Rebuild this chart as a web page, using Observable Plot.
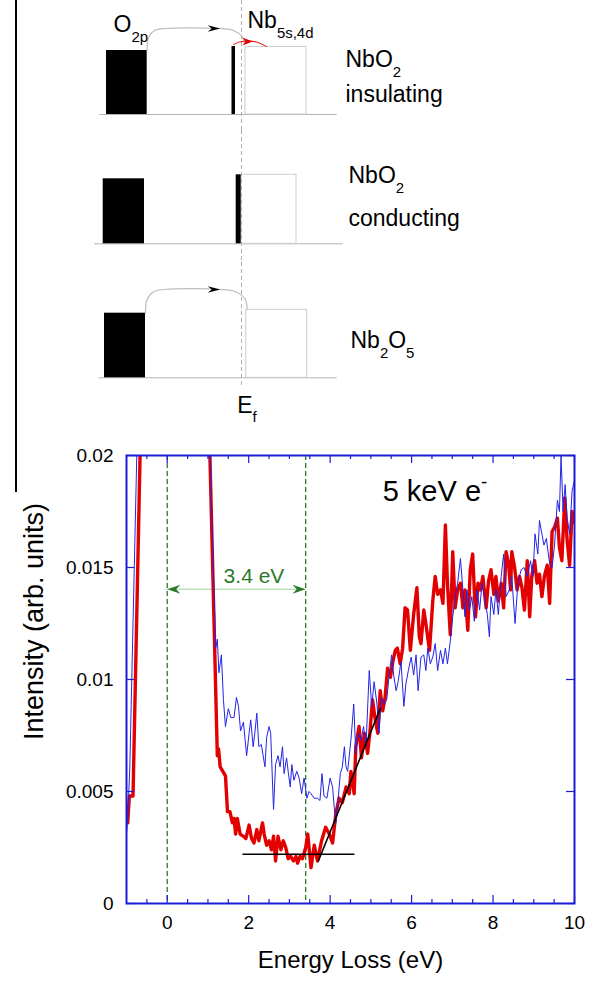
<!DOCTYPE html>
<html>
<head>
<meta charset="utf-8">
<script src="https://cdn.jsdelivr.net/npm/d3@7"></script>
<script src="https://cdn.jsdelivr.net/npm/@observablehq/plot@0.6"></script>
<style>
  body { margin: 0; background: #fff; }
  #wrap { position: relative; width: 597px; height: 982px; overflow: hidden; background: #fff; }
  #wrap svg { display: block; }
  #bar { position: absolute; left: 15px; top: 0; width: 2px; height: 492px; background: #000; z-index: 2; }
</style>
</head>
<body>
<div id="wrap"><div id="bar"></div></div>
<script>
// ---------------- DATA ----------------
// Band diagram (energy units relative to the Fermi level)
const fermiLevel = 0;
const rowNames = ["NbO_{2}", "NbO_{2}", "Nb_{2}O_{5}"];
const rowStates = ["insulating", "conducting", ""];
const baselines = [
  {row: 0, x1: -14.17, x2: 9.57},
  {row: 1, x1: -14.7, x2: 10.17},
  {row: 2, x1: -14.27, x2: 9.57}
];
const valenceBands = [   // O 2p (filled)
  {row: 0, x1: -13.5, x2: -9.43, top: 6.4},
  {row: 1, x1: -13.83, x2: -9.7, top: 6.5},
  {row: 2, x1: -13.7, x2: -9.6, top: 6.46}
];
const dBands = [         // narrow Nb 4d band (filled)
  {row: 0, x1: -0.95, x2: -0.6, top: 6.8},
  {row: 1, x1: -0.53, x2: -0.03, top: 6.9}
];
const conductionBands = [ // Nb 5s,4d (empty)
  {row: 0, x1: 0.4, x2: 6.5, top: 6.75},
  {row: 1, x1: 0.0, x2: 5.5, top: 6.9},
  {row: 2, x1: 0.47, x2: 6.57, top: 6.8}
];
const transitions = [
  {row: 0, kind: "gap", pts: [[-9.43, 6.4], [-9.3, 7.7], [-8.7, 8.4], [-7.6, 8.6], [-2.2, 8.6], [-0.8, 8.4], [0.05, 7.8], [0.3, 7.2]]},
  {row: 0, kind: "d", pts: [[-0.8, 7.0], [-0.2, 7.25], [0.6, 7.35], [1.5, 7.25], [2.5, 6.8]]},
  {row: 2, kind: "gap", pts: [[-9.6, 6.46], [-9.45, 7.8], [-8.8, 8.6], [-7.7, 8.83], [-2.2, 8.83], [-0.6, 8.6], [0.35, 7.9], [0.57, 6.9]]}
];
const transitionHeads = [
  {row: 0, kind: "gap", x: -2.75, y: 8.6},
  {row: 0, kind: "d", x: 0.6, y: 7.3},
  {row: 2, kind: "gap", x: -2.75, y: 8.83}
];
const diagramLabels = [
  {row: 0, text: "O_{2p}", x: -12.8, y: 8.97},
  {row: 0, text: "Nb_{5s,4d}", x: 0.6, y: 9.34},
  {row: 0, text: rowNames[0], x: 10.4, y: 5.44},
  {row: 0, text: rowStates[0], x: 10.4, y: 1.97},
  {row: 1, text: rowNames[1], x: 10.7, y: 6.77},
  {row: 1, text: rowStates[1], x: 10.7, y: 2.47},
  {row: 2, text: rowNames[2], x: 10.9, y: 3.67},
  {row: 2, text: "E_{f}", x: -0.43, y: -2.74}
];

// EELS spectrum
const energyRed = [-1.00,-0.97,-0.93,-0.84,-0.66,0.20,1.04,1.23,1.26,1.30,1.43,1.48,1.54,1.60,1.64,1.68,1.72,1.79,1.87,1.93,2.01,2.07,2.13,2.20,2.25,2.34,2.38,2.44,2.50,2.56,2.61,2.66,2.72,2.79,2.85,2.91,2.97,3.03,3.10,3.16,3.20,3.26,3.32,3.40,3.45,3.53,3.61,3.69,3.79,3.89,3.98,4.06,4.14,4.22,4.30,4.39,4.47,4.51,4.59,4.63,4.71,4.77,4.84,4.92,4.98,5.04,5.10,5.17,5.23,5.29,5.35,5.41,5.48,5.54,5.60,5.65,5.72,5.78,5.84,5.90,5.97,6.05,6.13,6.19,6.23,6.30,6.35,6.44,6.52,6.58,6.64,6.71,6.77,6.83,6.88,6.95,7.01,7.07,7.13,7.20,7.26,7.31,7.38,7.44,7.50,7.57,7.63,7.69,7.75,7.83,7.89,7.95,8.02,8.07,8.13,8.20,8.26,8.32,8.38,8.43,8.46,8.53,8.59,8.65,8.71,8.77,8.84,8.90,8.95,9.02,9.08,9.14,9.20,9.26,9.33,9.39,9.45,9.51,9.58,9.63,9.69,9.76,9.82,9.88,9.94,10.00];
const intensityRed = [0.0042,0.0036,0.0048,0.0048,0.0206,0.3000,0.0206,0.0066,0.0069,0.0061,0.0057,0.0041,0.0041,0.0036,0.0038,0.0031,0.0038,0.0031,0.0030,0.0029,0.0035,0.0029,0.0027,0.0033,0.0028,0.0036,0.0031,0.0026,0.0028,0.0024,0.0030,0.0019,0.0030,0.0024,0.0028,0.0025,0.0020,0.0021,0.0019,0.0021,0.0018,0.0021,0.0020,0.0025,0.0031,0.0016,0.0026,0.0019,0.0028,0.0034,0.0031,0.0027,0.0040,0.0047,0.0045,0.0052,0.0049,0.0059,0.0049,0.0070,0.0079,0.0065,0.0076,0.0067,0.0077,0.0091,0.0083,0.0076,0.0095,0.0086,0.0092,0.0105,0.0101,0.0108,0.0113,0.0114,0.0107,0.0114,0.0132,0.0131,0.0113,0.0129,0.0141,0.0119,0.0116,0.0131,0.0125,0.0113,0.0135,0.0146,0.0138,0.0140,0.0134,0.0169,0.0143,0.0120,0.0157,0.0132,0.0140,0.0143,0.0132,0.0140,0.0122,0.0149,0.0156,0.0128,0.0143,0.0140,0.0146,0.0132,0.0144,0.0149,0.0138,0.0146,0.0135,0.0143,0.0132,0.0157,0.0152,0.0140,0.0157,0.0150,0.0140,0.0146,0.0141,0.0131,0.0153,0.0128,0.0146,0.0153,0.0143,0.0147,0.0137,0.0146,0.0151,0.0134,0.0166,0.0168,0.0172,0.0159,0.0153,0.0181,0.0162,0.0151,0.0175,0.0170];
const energyBlue = [-1.00,-0.97,-0.92,-0.74,0.20,1.04,1.19,1.23,1.27,1.33,1.38,1.43,1.50,1.56,1.64,1.70,1.75,1.80,1.87,1.95,2.01,2.05,2.11,2.15,2.20,2.25,2.31,2.40,2.44,2.50,2.54,2.61,2.66,2.72,2.77,2.83,2.87,2.93,2.97,3.02,3.06,3.11,3.18,3.24,3.30,3.36,3.43,3.48,3.53,3.61,3.69,3.75,3.80,3.85,3.92,4.00,4.06,4.10,4.14,4.18,4.25,4.30,4.35,4.39,4.43,4.51,4.58,4.63,4.69,4.76,4.82,4.88,4.96,5.02,5.08,5.15,5.20,5.26,5.33,5.39,5.45,5.51,5.56,5.62,5.67,5.74,5.81,5.86,5.92,5.99,6.05,6.11,6.16,6.23,6.30,6.35,6.40,6.46,6.52,6.58,6.64,6.71,6.77,6.83,6.88,6.95,7.01,7.07,7.13,7.20,7.26,7.31,7.36,7.42,7.48,7.54,7.61,7.67,7.73,7.79,7.86,7.91,7.95,8.02,8.07,8.13,8.20,8.26,8.32,8.40,8.46,8.54,8.61,8.69,8.76,8.84,8.92,8.98,9.03,9.10,9.14,9.20,9.25,9.31,9.35,9.39,9.45,9.51,9.58,9.63,9.67,9.72,9.77,9.82,9.88,9.94,10.00];
const intensityBlue = [0.0031,0.0038,0.0060,0.0206,0.3000,0.0206,0.0114,0.0118,0.0103,0.0111,0.0091,0.0079,0.0087,0.0083,0.0083,0.0092,0.0088,0.0077,0.0081,0.0066,0.0076,0.0082,0.0070,0.0076,0.0085,0.0070,0.0071,0.0061,0.0074,0.0079,0.0076,0.0042,0.0062,0.0066,0.0061,0.0070,0.0058,0.0065,0.0059,0.0052,0.0062,0.0055,0.0059,0.0056,0.0049,0.0056,0.0047,0.0050,0.0049,0.0047,0.0047,0.0046,0.0058,0.0048,0.0047,0.0056,0.0052,0.0043,0.0036,0.0043,0.0058,0.0061,0.0070,0.0061,0.0059,0.0073,0.0089,0.0067,0.0076,0.0073,0.0079,0.0070,0.0104,0.0088,0.0099,0.0089,0.0076,0.0092,0.0089,0.0091,0.0102,0.0111,0.0102,0.0095,0.0099,0.0108,0.0088,0.0098,0.0104,0.0110,0.0102,0.0111,0.0095,0.0110,0.0111,0.0104,0.0114,0.0107,0.0110,0.0116,0.0104,0.0113,0.0107,0.0114,0.0107,0.0117,0.0128,0.0137,0.0143,0.0154,0.0140,0.0128,0.0140,0.0131,0.0137,0.0126,0.0140,0.0131,0.0143,0.0137,0.0129,0.0119,0.0137,0.0129,0.0140,0.0129,0.0146,0.0156,0.0137,0.0140,0.0146,0.0125,0.0143,0.0149,0.0150,0.0146,0.0153,0.0146,0.0165,0.0156,0.0171,0.0165,0.0160,0.0163,0.0157,0.0152,0.0150,0.0160,0.0180,0.0175,0.0200,0.0175,0.0187,0.0172,0.0165,0.0184,0.0189];
const backgroundFit = {x1: 1.86, x2: 4.61, y: 0.0022};
const onsetFit = [[3.71, 0.0019], [5.23, 0.0087]];
const gapEdges = [0, 3.4];
const gapArrowY = 0.01403;
const gapLabel = {text: "3.4 eV", x: 2.13, y: 0.01463};
const beamLabel = {text: "5 keV e^{-}", x: 5.29, y: 0.0184};
const xMajor = [0, 2, 4, 6, 8, 10];
const xMinor = [-0.5, 0.5, 1, 1.5, 2.5, 3, 3.5, 4.5, 5, 5.5, 6.5, 7, 7.5, 8.5, 9, 9.5];
const yMajor = [0, 0.005, 0.01, 0.015, 0.02];
const xLabel = "Energy Loss (eV)";
const yLabel = "Intensity (arb. units)";

// ---------------- HELPERS ----------------
const FONT = "'Liberation Sans', Arial, Helvetica, sans-serif";
const NS = "http://www.w3.org/2000/svg";

function dart(dir, aspect) {
  return {
    draw(ctx, size) {
      const s = Math.sqrt(size / Math.PI), h = s * aspect;
      ctx.moveTo(dir * s, 0);
      ctx.lineTo(-dir * s, -h);
      ctx.lineTo(-dir * s * 0.35, 0);
      ctx.lineTo(-dir * s, h);
      ctx.closePath();
    }
  };
}

// turn "X_{sub}" / "X^{sup}" into tspans
function richText(root) {
  root.querySelectorAll("text").forEach((t) => {
    const s = t.textContent;
    if (!/[_^]\{/.test(s)) return;
    const holder = t.closest("[font-size]");
    const fs = holder ? parseFloat(holder.getAttribute("font-size")) : 16;
    while (t.firstChild) t.removeChild(t.firstChild);
    let shift = 0;
    s.replace(/([_^])\{([^}]*)\}|([^_^]+)/g, (m, kind, inner, plain) => {
      const ts = document.createElementNS(NS, "tspan");
      if (plain !== undefined) {
        ts.textContent = plain;
        if (shift) { ts.setAttribute("dy", -shift); shift = 0; }
      } else {
        const d = (kind === "_" ? 0.42 : -0.45) * fs;
        ts.textContent = inner;
        ts.setAttribute("font-size", 0.65 * fs);
        ts.setAttribute("dy", d - shift);
        shift = d;
      }
      t.appendChild(ts);
    });
  });
}

const wrap = document.getElementById("wrap");

// ---------------- BAND DIAGRAM ROWS ----------------
const rowLayout = [{h: 130, mb: 16}, {h: 130, mb: 16.7}, {h: 150, mb: 32.7}];
const efBottom = [null, null, -0.77];

rowLayout.forEach(({h, mb}, i) => {
  const yTop = (h - mb) / 10;
  const byRow = (arr) => arr.filter((d) => d.row === i);
  const arcs = byRow(transitions).flatMap((t) => t.pts.map(([x, y]) => ({kind: t.kind, x, y})));
  const marks = [
    Plot.ruleY(byRow(baselines), {x1: "x1", x2: "x2", y: 0, stroke: "#b4b4b4", strokeWidth: 1}),
    Plot.rect(byRow(conductionBands), {x1: "x1", x2: "x2", y1: 0, y2: "top", fill: "none", stroke: "#cdcdcd", strokeWidth: 1}),
    Plot.ruleX([fermiLevel], {y1: efBottom[i] ?? -mb / 10, y2: yTop, stroke: "#b0b0b0", strokeWidth: 1, strokeDasharray: "4,3"}),
    Plot.rect(byRow(valenceBands), {x1: "x1", x2: "x2", y1: 0, y2: "top", fill: "#000"}),
    Plot.rect(byRow(dBands), {x1: "x1", x2: "x2", y1: 0, y2: "top", fill: "#000"}),
    Plot.line(arcs.filter((d) => d.kind === "gap"), {x: "x", y: "y", curve: "catmull-rom", stroke: "#bdbdbd", strokeWidth: 1.2}),
    Plot.line(arcs.filter((d) => d.kind === "d"), {x: "x", y: "y", curve: "catmull-rom", stroke: "#e00000", strokeWidth: 1}),
    Plot.dot(byRow(transitionHeads).filter((d) => d.kind === "gap"), {x: "x", y: "y", r: 6.3, symbol: dart(1, 0.53), fill: "#000", stroke: "none"}),
    Plot.dot(byRow(transitionHeads).filter((d) => d.kind === "d"), {x: "x", y: "y", r: 5.2, symbol: dart(1, 0.75), fill: "#e00000", stroke: "none"}),
    Plot.text(byRow(diagramLabels), {x: "x", y: "y", text: "text", textAnchor: "start", fontSize: 23, fill: "#000"})
  ];
  const svg = Plot.plot({
    width: 597, height: h,
    marginTop: 0, marginBottom: mb, marginLeft: 0, marginRight: 0,
    style: {fontFamily: FONT, background: "transparent", overflow: "visible"},
    x: {domain: [-24.1, 35.6], axis: null},
    y: {domain: [0, yTop], axis: null},
    marks
  });
  richText(svg);
  wrap.appendChild(svg);
});

// ---------------- SPECTRUM ----------------
const W = 597, H = 572, mT = 45, mB = 79, mL = 126, mR = 23;
const FW = W - mL - mR, FH = H - mT - mB;
const AXIS = "#1c1cd8";
const GREEN = "#2a7a2a";
const red = energyRed.map((e, k) => ({e, i: intensityRed[k]}));
const blue = energyBlue.map((e, k) => ({e, i: intensityBlue[k]}));

const spectrum = Plot.plot({
  width: W, height: H,
  marginTop: mT, marginBottom: mB, marginLeft: mL, marginRight: mR,
  style: {fontFamily: FONT, fontSize: "19px", color: "#000", background: "#fff", overflow: "visible"},
  x: {domain: [-1, 10]},
  y: {domain: [0, 0.02]},
  marks: [
    Plot.axisX({ticks: xMajor, tickSize: 0, tickPadding: 12, fontSize: 19, label: null}),
    Plot.axisY({ticks: yMajor, tickSize: 0, tickPadding: 13, fontSize: 19, label: null, tickFormat: d3.format("~g")}),
    Plot.ruleX(gapEdges, {stroke: GREEN, strokeWidth: 1.3, strokeDasharray: "5,3"}),
    Plot.ruleY([gapArrowY], {x1: gapEdges[0], x2: gapEdges[1], stroke: "#9fcf9f", strokeWidth: 1}),
    Plot.dot([gapEdges[0]], {x: (d) => d, y: gapArrowY, dx: 6.6, r: 6.6, symbol: dart(-1, 0.68), fill: GREEN, stroke: "none"}),
    Plot.dot([gapEdges[1]], {x: (d) => d, y: gapArrowY, dx: -6.6, r: 6.6, symbol: dart(1, 0.68), fill: GREEN, stroke: "none"}),
    Plot.text([gapLabel], {x: "x", y: "y", text: "text", fontSize: 21, fill: GREEN}),
    Plot.line(red, {x: "e", y: "i", stroke: "#e30000", strokeWidth: 3.4, strokeLinejoin: "round", clip: true}),
    Plot.line(blue, {x: "e", y: "i", stroke: "#2424e6", strokeWidth: 1, clip: true}),
    Plot.ruleY([backgroundFit], {x1: "x1", x2: "x2", y: "y", stroke: "#000", strokeWidth: 1.4}),
    Plot.line(onsetFit, {x: (d) => d[0], y: (d) => d[1], stroke: "#000", strokeWidth: 1.6}),
    // inward ticks on all four sides
    Plot.ruleX(xMajor, {insetTop: FH - 8, stroke: AXIS, strokeWidth: 1.2}),
    Plot.ruleX(xMajor, {insetBottom: FH - 8, stroke: AXIS, strokeWidth: 1.2}),
    Plot.ruleX(xMinor, {insetTop: FH - 4, stroke: AXIS, strokeWidth: 1.2}),
    Plot.ruleX(xMinor, {insetBottom: FH - 4, stroke: AXIS, strokeWidth: 1.2}),
    Plot.ruleY(yMajor, {insetRight: FW - 8, stroke: AXIS, strokeWidth: 1.2}),
    Plot.ruleY(yMajor, {insetLeft: FW - 8, stroke: AXIS, strokeWidth: 1.2}),
    Plot.frame({stroke: AXIS, strokeWidth: 2}),
    Plot.text([beamLabel], {x: "x", y: "y", text: "text", textAnchor: "start", fontSize: 29, fill: "#000"}),
    Plot.text([xLabel], {frameAnchor: "bottom", dy: 64, text: (d) => d, textAnchor: "middle", fontSize: 24, fill: "#000"}),
    Plot.text([yLabel], {frameAnchor: "left", dx: -92, dy: -58, rotate: -90, text: (d) => d, textAnchor: "middle", fontSize: 27, fill: "#000"})
  ]
});
richText(spectrum);
wrap.appendChild(spectrum);
</script>
</body>
</html>
